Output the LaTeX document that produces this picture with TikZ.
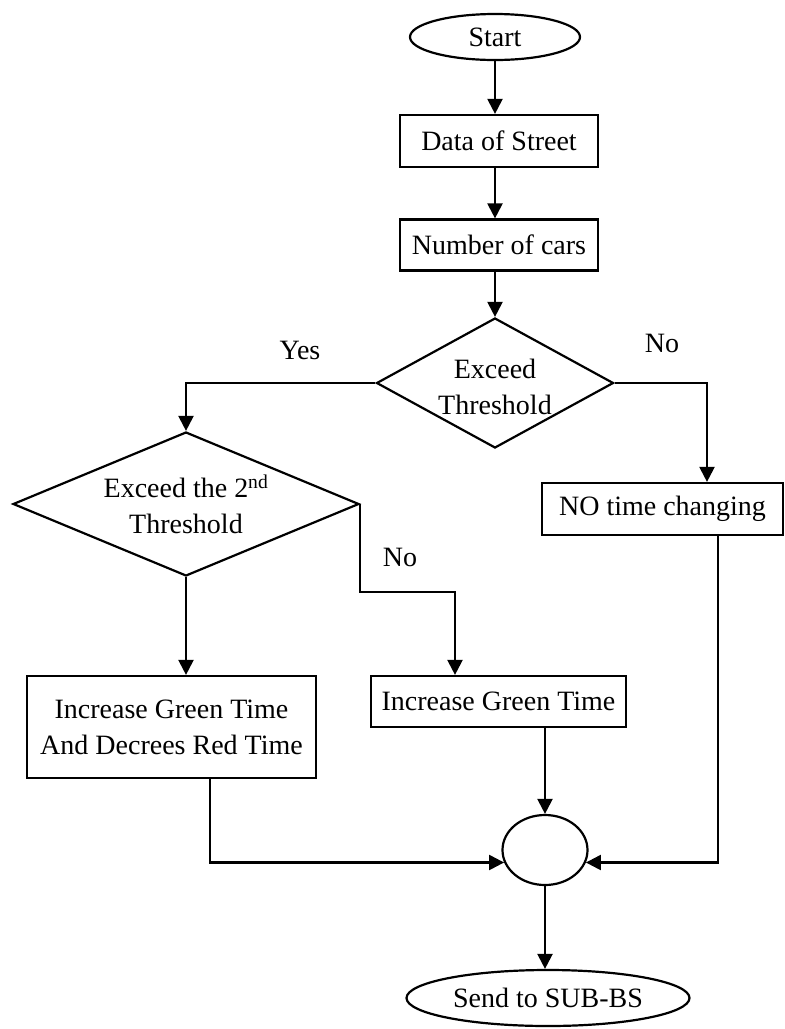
\documentclass[tikz,border=0pt]{standalone}
\usepackage{fontspec}
\setmainfont{Liberation Serif}
\usetikzlibrary{shapes.geometric,arrows.meta,calc}
\begin{document}
\begin{tikzpicture}[x=1pt,y=-1pt, line width=2.2pt,
  every node/.style={font=\fontsize{28}{36}\selectfont, inner sep=0pt},
  proc/.style={draw, rectangle, align=center},
  term/.style={draw, ellipse},
  dec/.style={draw, diamond},
  txt/.style={align=center},
  arr/.style={-{Triangle[length=15pt,width=15pt]}}]
\useasboundingbox (0,0) rectangle (785,1029);
% nodes
\node[term, minimum width=170pt, minimum height=46pt] (start) at (495,37) {Start};
\node[proc, minimum width=198pt, minimum height=52pt] (data) at (499,141) {Data of Street};
\node[proc, minimum width=198pt, minimum height=51pt] (cars) at (499,245) {Number of cars};
\node[dec, minimum width=237pt, minimum height=130pt] (d1) at (495,383) {};
\node[txt] (d1t) at (495,387) {Exceed\\Threshold};
\node[dec, minimum width=346pt, minimum height=144pt] (d2) at (186,504) {};
\node[txt] (d2t) at (186,504) {Exceed the 2\textsuperscript{nd}\\Threshold};
\node[proc, minimum width=241pt, minimum height=52pt] (notime) at (662.5,509) {NO time changing};
\node[proc, minimum width=289pt, minimum height=102pt] (incboth) at (171.5,727) {Increase Green Time\\And Decrees Red Time};
\node[proc, minimum width=255pt, minimum height=51pt] (inc) at (498.5,701.5) {Increase Green Time};
\node[term, minimum width=85pt, minimum height=70pt] (join) at (545,850) {};
\node[term, minimum width=283pt, minimum height=56pt] (send) at (548,998) {Send to SUB-BS};
% labels
\node (yes) at (300,350) {Yes};
\node (no1) at (662,343) {No};
\node (no2) at (400,557) {No};
% connectors
\draw[arr] (start.south) -- (start.south |- data.north);
\draw[arr] (start.south |- data.south) -- (start.south |- cars.north);
\draw[arr] (d1.north |- cars.south) -- (d1.north);
\draw[arr] (d1.west) -| (d2.north);
\draw[arr] (d1.east) -| ([xshift=44.5pt]notime.north);
\draw[arr] (d2.east) -- ++(0,88) -| ([xshift=-43.5pt]inc.north);
\draw[arr] (d2.south) -- (d2.south |- incboth.north);
\draw[arr] (join.north |- inc.south) -- (join.north);
\draw[arr] ([xshift=38.5pt]incboth.south) |- (join.197);
\draw[arr] ([xshift=55.5pt]notime.south) |- (join.343);
\draw[arr] (join.south) -- (join.south |- send.north);
\end{tikzpicture}
\end{document}
